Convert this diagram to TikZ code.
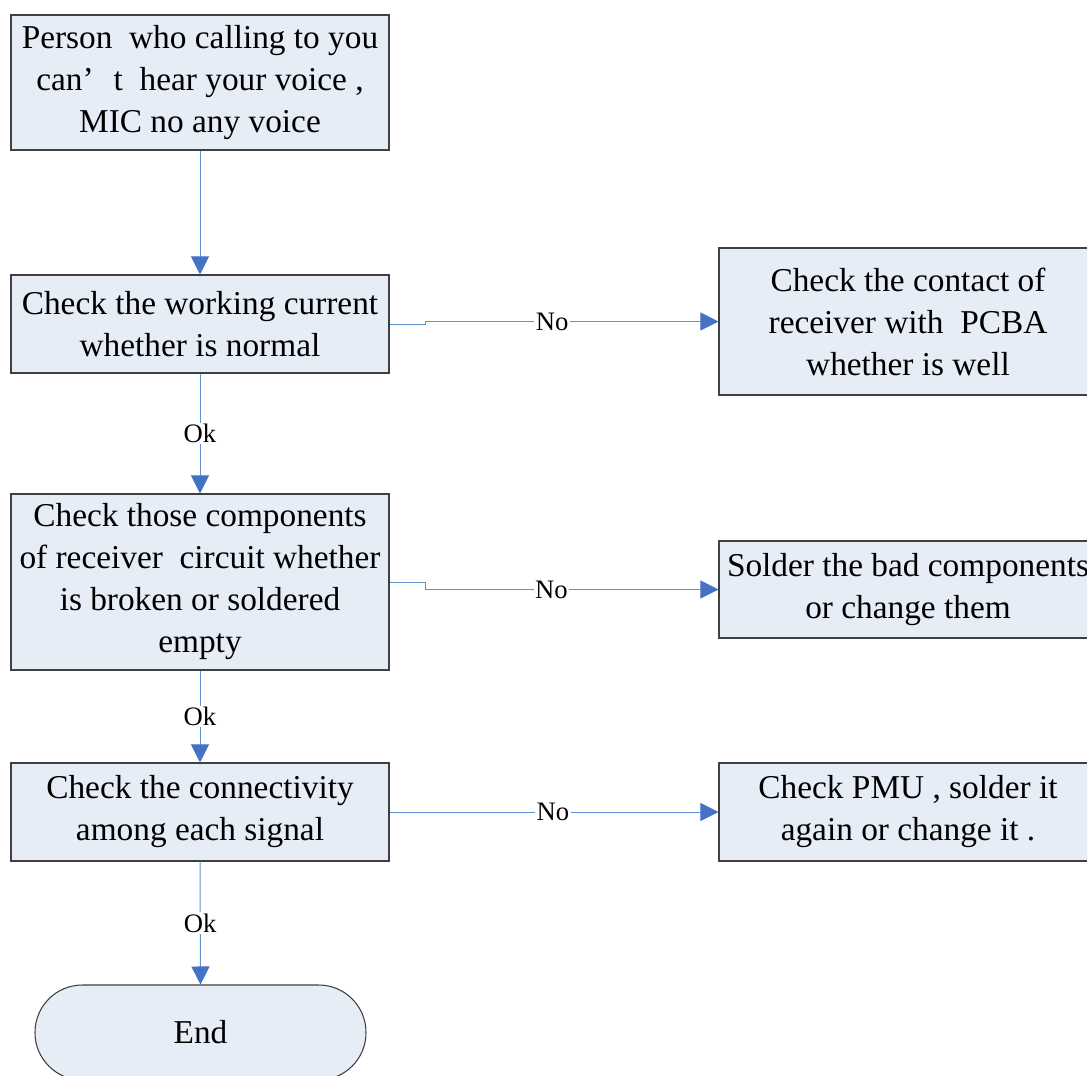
\documentclass[tikz,border=0pt]{standalone}
\usepackage{fontspec}
\setmainfont{Liberation Serif}
\usetikzlibrary{arrows.meta}
\definecolor{boxfill}{RGB}{230,237,247}
\definecolor{boxline}{RGB}{64,64,64}
\definecolor{flowline}{RGB}{100,145,210}
\definecolor{tipblue}{RGB}{68,114,196}
\begin{document}
\begin{tikzpicture}[x=0.75pt,y=-0.75pt,
  stepbox/.style={draw=boxline,fill=boxfill,line width=0.8pt,minimum width=283.5pt,
    align=center,inner sep=0pt,font=\fontsize{25}{31.5}\selectfont},
  endbox/.style={stepbox,minimum width=248.25pt,minimum height=71.25pt,rounded corners=35.5pt},
  flow/.style={draw=flowline,line width=0.75pt,
    -{Triangle[length=13.5pt,width=13.5pt,color=tipblue,fill=tipblue]}},
  lbl/.style={fill=white,inner sep=1pt,font=\fontsize{20}{24}\selectfont}]
\path[use as bounding box,clip] (0,0) rectangle (1087,1075);

% main column
\node[stepbox,minimum height=101.25pt] (b1) at (200,82.5)
  {Person\ \ who calling to you\\can’\hspace{0.6em}t\ \ hear your voice ,\\MIC no any voice};
\node[stepbox,minimum height=73.5pt] (b2) at (200,324)
  {Check the working current\\whether is normal};
\node[stepbox,minimum height=132pt] (b3) at (200,582)
  {Check those components\\of receiver\ \ circuit whether\\is broken or soldered\\empty};
\node[stepbox,minimum height=73.5pt] (b4) at (200,812)
  {Check the connectivity\\among each signal};
\node[endbox] (e) at (200.5,1032.5) {End};

% remedies on the right
\node[stepbox,minimum height=110.25pt] (r1) at (908,321.5)
  {Check the contact of\\receiver with\ \ PCBA\\whether is well};
\node[stepbox,minimum height=72.75pt] (r2) at (908,589.5)
  {Solder the bad components\\or change them};
\node[stepbox,minimum height=73.5pt] (r3) at (908,812)
  {Check PMU , solder it\\again or change it .};

% connectors
\draw[flow] (b1.south) -- (b2.north);
\draw[flow] (b2.south) -- node[lbl] {Ok} (b3.north);
\draw[flow] (b3.south) -- node[lbl] {Ok} (b4.north);
\draw[flow] (b4.south) -- node[lbl] {Ok} (e.north);

\draw[flow] (b2.east) -- ++(36,0) |- node[lbl,pos=0.716] {No} (r1.west);
\draw[flow] (b3.east) -- ++(36,0) |- node[lbl,pos=0.715] {No} (r2.west);
\draw[flow] (b4.east) -- node[lbl,pos=0.497] {No} (r3.west);
\end{tikzpicture}
\end{document}
